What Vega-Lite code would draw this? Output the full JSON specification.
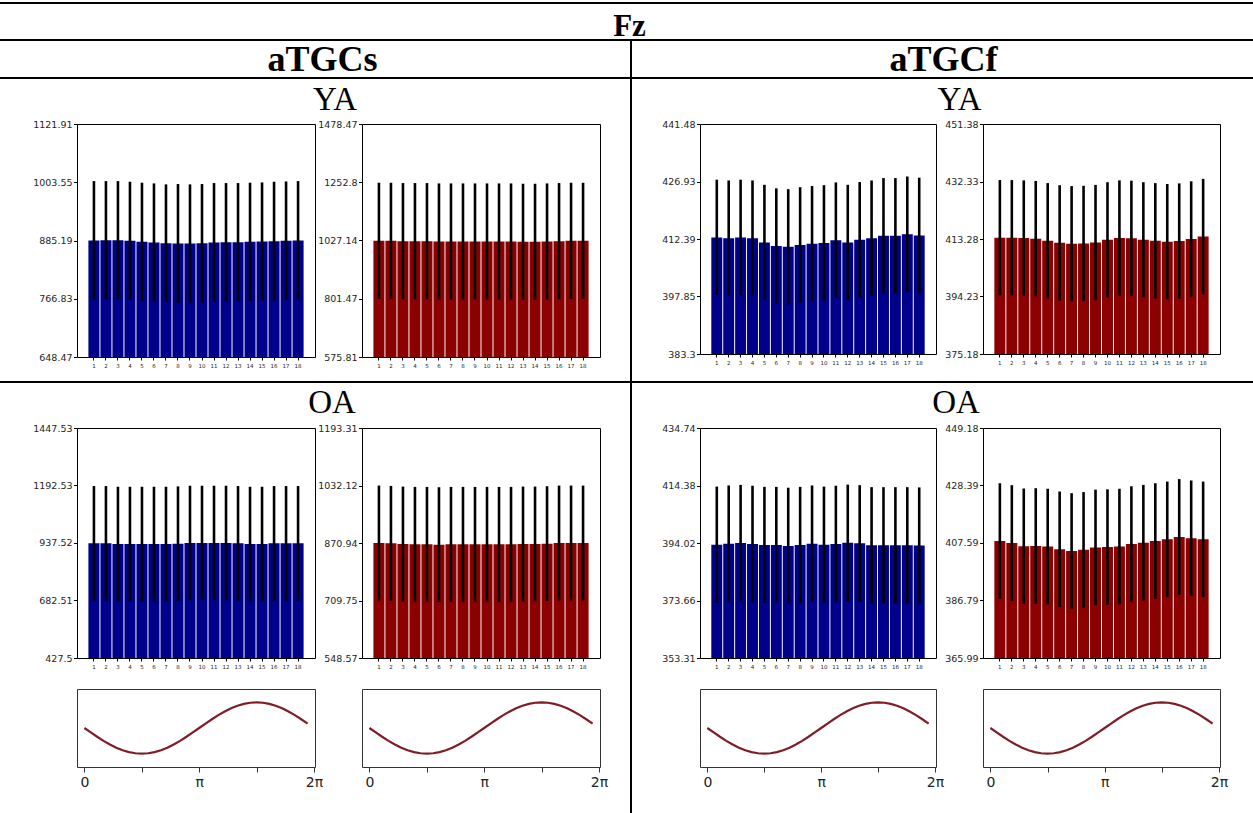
{
  "$schema": "https://vega.github.io/schema/vega-lite/v6.json",
  "padding": {"left": 0, "top": 2, "right": 0, "bottom": 0},
  "columns": 11,
  "align": "each",
  "bounds": "flush",
  "spacing": 0,
  "config": {
    "view": {"stroke": null},
    "axis": {"domain": false, "grid": false, "tickColor": "#000", "labelColor": "#262626", "labelFont": "DejaVu Sans", "labelFlush": false, "labelOverlap": false},
    "axisX": {"labelFontSize": 5.5, "tickSize": 3, "labelPadding": 3, "labelAngle": 0},
    "axisY": {"labelFontSize": 9.5, "tickSize": 3.5, "labelPadding": 1.5}
  },
  "datasets": {
    "ya_s": [
      {"pos": 1, "mean": 885.2, "sd": 120.7}, {"pos": 2, "mean": 885.9, "sd": 120.0}, {"pos": 3, "mean": 885.9, "sd": 120.0},
      {"pos": 4, "mean": 884.5, "sd": 120.1}, {"pos": 5, "mean": 882.5, "sd": 120.1}, {"pos": 6, "mean": 881.1, "sd": 120.1},
      {"pos": 7, "mean": 879.8, "sd": 119.4}, {"pos": 8, "mean": 879.1, "sd": 120.8}, {"pos": 9, "mean": 879.1, "sd": 120.1},
      {"pos": 10, "mean": 879.8, "sd": 120.1}, {"pos": 11, "mean": 881.1, "sd": 120.8}, {"pos": 12, "mean": 881.8, "sd": 120.1},
      {"pos": 13, "mean": 881.8, "sd": 120.1}, {"pos": 14, "mean": 882.5, "sd": 120.1}, {"pos": 15, "mean": 883.2, "sd": 120.0},
      {"pos": 16, "mean": 883.8, "sd": 120.8}, {"pos": 17, "mean": 884.5, "sd": 120.7}, {"pos": 18, "mean": 885.2, "sd": 120.7}
    ],
    "ya_s_red": [
      {"pos": 1, "mean": 1025.8, "sd": 225}, {"pos": 2, "mean": 1025.8, "sd": 225}, {"pos": 3, "mean": 1024.6, "sd": 225},
      {"pos": 4, "mean": 1024.6, "sd": 225}, {"pos": 5, "mean": 1024.6, "sd": 225}, {"pos": 6, "mean": 1023.3, "sd": 225},
      {"pos": 7, "mean": 1023.3, "sd": 225}, {"pos": 8, "mean": 1023.3, "sd": 225}, {"pos": 9, "mean": 1023.3, "sd": 225},
      {"pos": 10, "mean": 1023.3, "sd": 225}, {"pos": 11, "mean": 1023.3, "sd": 225}, {"pos": 12, "mean": 1023.3, "sd": 225},
      {"pos": 13, "mean": 1022.0, "sd": 225}, {"pos": 14, "mean": 1022.0, "sd": 225}, {"pos": 15, "mean": 1023.3, "sd": 225},
      {"pos": 16, "mean": 1024.6, "sd": 225}, {"pos": 17, "mean": 1025.8, "sd": 225}, {"pos": 18, "mean": 1025.8, "sd": 225}
    ],
    "ya_f": [
      {"pos": 1, "mean": 412.8, "sd": 14.6}, {"pos": 2, "mean": 412.6, "sd": 14.6}, {"pos": 3, "mean": 412.8, "sd": 14.6},
      {"pos": 4, "mean": 412.6, "sd": 14.6}, {"pos": 5, "mean": 411.5, "sd": 14.6}, {"pos": 6, "mean": 410.6, "sd": 14.6},
      {"pos": 7, "mean": 410.4, "sd": 14.6}, {"pos": 8, "mean": 410.9, "sd": 14.6}, {"pos": 9, "mean": 411.2, "sd": 14.6},
      {"pos": 10, "mean": 411.4, "sd": 14.6}, {"pos": 11, "mean": 412.1, "sd": 14.6}, {"pos": 12, "mean": 411.5, "sd": 14.6},
      {"pos": 13, "mean": 412.2, "sd": 14.6}, {"pos": 14, "mean": 412.6, "sd": 14.6}, {"pos": 15, "mean": 413.2, "sd": 14.6},
      {"pos": 16, "mean": 413.2, "sd": 14.6}, {"pos": 17, "mean": 413.6, "sd": 14.6}, {"pos": 18, "mean": 413.3, "sd": 14.6}
    ],
    "ya_f_red": [
      {"pos": 1, "mean": 413.7, "sd": 19.1}, {"pos": 2, "mean": 413.7, "sd": 19.1}, {"pos": 3, "mean": 413.6, "sd": 19.1},
      {"pos": 4, "mean": 413.4, "sd": 19.1}, {"pos": 5, "mean": 412.7, "sd": 19.1}, {"pos": 6, "mean": 412.0, "sd": 19.1},
      {"pos": 7, "mean": 411.7, "sd": 19.1}, {"pos": 8, "mean": 411.8, "sd": 19.1}, {"pos": 9, "mean": 412.1, "sd": 19.1},
      {"pos": 10, "mean": 413.0, "sd": 19.1}, {"pos": 11, "mean": 413.6, "sd": 19.1}, {"pos": 12, "mean": 413.5, "sd": 19.1},
      {"pos": 13, "mean": 413.0, "sd": 19.1}, {"pos": 14, "mean": 412.7, "sd": 19.1}, {"pos": 15, "mean": 412.4, "sd": 19.1},
      {"pos": 16, "mean": 412.6, "sd": 19.1}, {"pos": 17, "mean": 413.3, "sd": 19.1}, {"pos": 18, "mean": 414.1, "sd": 19.1}
    ],
    "oa_s": [
      {"pos": 1, "mean": 936.0, "sd": 254}, {"pos": 2, "mean": 936.0, "sd": 254}, {"pos": 3, "mean": 933.1, "sd": 254},
      {"pos": 4, "mean": 933.1, "sd": 254}, {"pos": 5, "mean": 933.1, "sd": 254}, {"pos": 6, "mean": 933.1, "sd": 254},
      {"pos": 7, "mean": 933.1, "sd": 254}, {"pos": 8, "mean": 934.6, "sd": 254}, {"pos": 9, "mean": 937.5, "sd": 254},
      {"pos": 10, "mean": 937.5, "sd": 254}, {"pos": 11, "mean": 937.5, "sd": 254}, {"pos": 12, "mean": 937.5, "sd": 254},
      {"pos": 13, "mean": 936.0, "sd": 254}, {"pos": 14, "mean": 933.1, "sd": 254}, {"pos": 15, "mean": 933.1, "sd": 254},
      {"pos": 16, "mean": 936.0, "sd": 254}, {"pos": 17, "mean": 936.0, "sd": 254}, {"pos": 18, "mean": 936.0, "sd": 254}
    ],
    "oa_s_red": [
      {"pos": 1, "mean": 870.9, "sd": 161}, {"pos": 2, "mean": 870.0, "sd": 161}, {"pos": 3, "mean": 868.1, "sd": 161},
      {"pos": 4, "mean": 867.2, "sd": 161}, {"pos": 5, "mean": 867.2, "sd": 161}, {"pos": 6, "mean": 866.3, "sd": 161},
      {"pos": 7, "mean": 867.2, "sd": 161}, {"pos": 8, "mean": 867.2, "sd": 161}, {"pos": 9, "mean": 867.2, "sd": 161},
      {"pos": 10, "mean": 867.2, "sd": 161}, {"pos": 11, "mean": 867.2, "sd": 161}, {"pos": 12, "mean": 867.2, "sd": 161},
      {"pos": 13, "mean": 868.1, "sd": 161}, {"pos": 14, "mean": 868.1, "sd": 161}, {"pos": 15, "mean": 869.1, "sd": 161},
      {"pos": 16, "mean": 870.9, "sd": 161}, {"pos": 17, "mean": 870.9, "sd": 161}, {"pos": 18, "mean": 870.9, "sd": 161}
    ],
    "oa_f": [
      {"pos": 1, "mean": 393.4, "sd": 20.6}, {"pos": 2, "mean": 393.8, "sd": 20.6}, {"pos": 3, "mean": 394.0, "sd": 20.6},
      {"pos": 4, "mean": 393.7, "sd": 20.6}, {"pos": 5, "mean": 393.3, "sd": 20.6}, {"pos": 6, "mean": 393.3, "sd": 20.6},
      {"pos": 7, "mean": 393.0, "sd": 20.6}, {"pos": 8, "mean": 393.3, "sd": 20.6}, {"pos": 9, "mean": 393.8, "sd": 20.6},
      {"pos": 10, "mean": 393.4, "sd": 20.6}, {"pos": 11, "mean": 393.7, "sd": 20.6}, {"pos": 12, "mean": 394.1, "sd": 20.6},
      {"pos": 13, "mean": 393.9, "sd": 20.6}, {"pos": 14, "mean": 393.2, "sd": 20.6}, {"pos": 15, "mean": 393.2, "sd": 20.6},
      {"pos": 16, "mean": 393.2, "sd": 20.6}, {"pos": 17, "mean": 393.2, "sd": 20.6}, {"pos": 18, "mean": 393.1, "sd": 20.6}
    ],
    "oa_f_red": [
      {"pos": 1, "mean": 408.3, "sd": 20.9}, {"pos": 2, "mean": 407.6, "sd": 20.9}, {"pos": 3, "mean": 406.4, "sd": 20.9},
      {"pos": 4, "mean": 406.5, "sd": 20.9}, {"pos": 5, "mean": 406.3, "sd": 20.9}, {"pos": 6, "mean": 405.3, "sd": 20.9},
      {"pos": 7, "mean": 404.7, "sd": 20.9}, {"pos": 8, "mean": 405.1, "sd": 20.9}, {"pos": 9, "mean": 406.0, "sd": 20.9},
      {"pos": 10, "mean": 406.1, "sd": 20.9}, {"pos": 11, "mean": 406.3, "sd": 20.9}, {"pos": 12, "mean": 407.2, "sd": 20.9},
      {"pos": 13, "mean": 407.7, "sd": 20.9}, {"pos": 14, "mean": 408.3, "sd": 20.9}, {"pos": 15, "mean": 408.9, "sd": 20.9},
      {"pos": 16, "mean": 409.8, "sd": 20.9}, {"pos": 17, "mean": 409.3, "sd": 20.9}, {"pos": 18, "mean": 408.9, "sd": 20.9}
    ],
    "wave": [
      {"deg": 0, "val": 0}, {"deg": 10, "val": -0.1736}, {"deg": 20, "val": -0.342}, {"deg": 30, "val": -0.5},
      {"deg": 40, "val": -0.6428}, {"deg": 50, "val": -0.766}, {"deg": 60, "val": -0.866}, {"deg": 70, "val": -0.9397},
      {"deg": 80, "val": -0.9848}, {"deg": 90, "val": -1}, {"deg": 100, "val": -0.9848}, {"deg": 110, "val": -0.9397},
      {"deg": 120, "val": -0.866}, {"deg": 130, "val": -0.766}, {"deg": 140, "val": -0.6428}, {"deg": 150, "val": -0.5},
      {"deg": 160, "val": -0.342}, {"deg": 170, "val": -0.1736}, {"deg": 180, "val": 0}, {"deg": 190, "val": 0.1736},
      {"deg": 200, "val": 0.342}, {"deg": 210, "val": 0.5}, {"deg": 220, "val": 0.6428}, {"deg": 230, "val": 0.766},
      {"deg": 240, "val": 0.866}, {"deg": 250, "val": 0.9397}, {"deg": 260, "val": 0.9848}, {"deg": 270, "val": 1},
      {"deg": 280, "val": 0.9848}, {"deg": 290, "val": 0.9397}, {"deg": 300, "val": 0.866}, {"deg": 310, "val": 0.766},
      {"deg": 320, "val": 0.6428}, {"deg": 330, "val": 0.5}, {"deg": 340, "val": 0.342}, {"deg": 350, "val": 0.1736}
    ]
  },
  "concat": [
    {"width": 77, "height": 2, "view": {"fill": "#000"}, "data": {"values": []}, "mark": "point"},
    {"width": 238, "height": 2, "view": {"fill": "#000"}, "data": {"values": []}, "mark": "point"},
    {"width": 47, "height": 2, "view": {"fill": "#000"}, "data": {"values": []}, "mark": "point"},
    {"width": 238, "height": 2, "view": {"fill": "#000"}, "data": {"values": []}, "mark": "point"},
    {"width": 30, "height": 2, "view": {"fill": "#000"}, "data": {"values": []}, "mark": "point"},
    {"width": 2, "height": 2, "view": {"fill": "#000"}, "data": {"values": []}, "mark": "point"},
    {"width": 68, "height": 2, "view": {"fill": "#000"}, "data": {"values": []}, "mark": "point"},
    {"width": 236, "height": 2, "view": {"fill": "#000"}, "data": {"values": []}, "mark": "point"},
    {"width": 47, "height": 2, "view": {"fill": "#000"}, "data": {"values": []}, "mark": "point"},
    {"width": 237, "height": 2, "view": {"fill": "#000"}, "data": {"values": []}, "mark": "point"},
    {"width": 33, "height": 2, "view": {"fill": "#000"}, "data": {"values": []}, "mark": "point"},

    {"width": 1, "height": 35, "data": {"values": []}, "mark": "point"}, {"width": 1, "height": 35, "data": {"values": []}, "mark": "point"},
    {"width": 1, "height": 35, "data": {"values": []}, "mark": "point"}, {"width": 1, "height": 35, "data": {"values": []}, "mark": "point"},
    {"width": 1, "height": 35, "data": {"values": []}, "mark": "point"},
    {"width": 2, "height": 35, "data": {"values": [{"t": "Fz"}]}, "mark": {"type": "text", "font": "Liberation Serif", "fontWeight": "bold", "fontSize": 31, "color": "#000", "baseline": "alphabetic", "dx": -1.5, "dy": 14.5}, "encoding": {"text": {"field": "t"}}},
    {"width": 1, "height": 35, "data": {"values": []}, "mark": "point"}, {"width": 1, "height": 35, "data": {"values": []}, "mark": "point"},
    {"width": 1, "height": 35, "data": {"values": []}, "mark": "point"}, {"width": 1, "height": 35, "data": {"values": []}, "mark": "point"},
    {"width": 1, "height": 35, "data": {"values": []}, "mark": "point"},

    {"width": 77, "height": 2, "view": {"fill": "#000"}, "data": {"values": []}, "mark": "point"},
    {"width": 238, "height": 2, "view": {"fill": "#000"}, "data": {"values": []}, "mark": "point"},
    {"width": 47, "height": 2, "view": {"fill": "#000"}, "data": {"values": []}, "mark": "point"},
    {"width": 238, "height": 2, "view": {"fill": "#000"}, "data": {"values": []}, "mark": "point"},
    {"width": 30, "height": 2, "view": {"fill": "#000"}, "data": {"values": []}, "mark": "point"},
    {"width": 2, "height": 2, "view": {"fill": "#000"}, "data": {"values": []}, "mark": "point"},
    {"width": 68, "height": 2, "view": {"fill": "#000"}, "data": {"values": []}, "mark": "point"},
    {"width": 236, "height": 2, "view": {"fill": "#000"}, "data": {"values": []}, "mark": "point"},
    {"width": 47, "height": 2, "view": {"fill": "#000"}, "data": {"values": []}, "mark": "point"},
    {"width": 237, "height": 2, "view": {"fill": "#000"}, "data": {"values": []}, "mark": "point"},
    {"width": 33, "height": 2, "view": {"fill": "#000"}, "data": {"values": []}, "mark": "point"},

    {"width": 1, "height": 36, "data": {"values": []}, "mark": "point"}, {"width": 1, "height": 36, "data": {"values": []}, "mark": "point"},
    {"width": 47, "height": 36, "data": {"values": [{"t": "aTGCs"}]}, "mark": {"type": "text", "font": "Liberation Serif", "fontWeight": "bold", "fontSize": 36, "color": "#000", "baseline": "alphabetic", "dx": -16, "dy": 12}, "encoding": {"text": {"field": "t"}}},
    {"width": 1, "height": 36, "data": {"values": []}, "mark": "point"}, {"width": 1, "height": 36, "data": {"values": []}, "mark": "point"},
    {"width": 2, "height": 36, "view": {"fill": "#000"}, "data": {"values": []}, "mark": "point"},
    {"width": 1, "height": 36, "data": {"values": []}, "mark": "point"}, {"width": 1, "height": 36, "data": {"values": []}, "mark": "point"},
    {"width": 47, "height": 36, "data": {"values": [{"t": "aTGCf"}]}, "mark": {"type": "text", "font": "Liberation Serif", "fontWeight": "bold", "fontSize": 36, "color": "#000", "baseline": "alphabetic", "dx": -16, "dy": 12}, "encoding": {"text": {"field": "t"}}},
    {"width": 1, "height": 36, "data": {"values": []}, "mark": "point"}, {"width": 1, "height": 36, "data": {"values": []}, "mark": "point"},

    {"width": 77, "height": 2, "view": {"fill": "#000"}, "data": {"values": []}, "mark": "point"},
    {"width": 238, "height": 2, "view": {"fill": "#000"}, "data": {"values": []}, "mark": "point"},
    {"width": 47, "height": 2, "view": {"fill": "#000"}, "data": {"values": []}, "mark": "point"},
    {"width": 238, "height": 2, "view": {"fill": "#000"}, "data": {"values": []}, "mark": "point"},
    {"width": 30, "height": 2, "view": {"fill": "#000"}, "data": {"values": []}, "mark": "point"},
    {"width": 2, "height": 2, "view": {"fill": "#000"}, "data": {"values": []}, "mark": "point"},
    {"width": 68, "height": 2, "view": {"fill": "#000"}, "data": {"values": []}, "mark": "point"},
    {"width": 236, "height": 2, "view": {"fill": "#000"}, "data": {"values": []}, "mark": "point"},
    {"width": 47, "height": 2, "view": {"fill": "#000"}, "data": {"values": []}, "mark": "point"},
    {"width": 237, "height": 2, "view": {"fill": "#000"}, "data": {"values": []}, "mark": "point"},
    {"width": 33, "height": 2, "view": {"fill": "#000"}, "data": {"values": []}, "mark": "point"},

    {"width": 1, "height": 45, "data": {"values": []}, "mark": "point"}, {"width": 1, "height": 45, "data": {"values": []}, "mark": "point"},
    {"width": 47, "height": 45, "data": {"values": [{"t": "YA"}]}, "mark": {"type": "text", "font": "Liberation Serif", "fontSize": 33, "color": "#000", "baseline": "alphabetic", "dx": -3.5, "dy": 8.5}, "encoding": {"text": {"field": "t"}}},
    {"width": 1, "height": 45, "data": {"values": []}, "mark": "point"}, {"width": 1, "height": 45, "data": {"values": []}, "mark": "point"},
    {"width": 2, "height": 45, "view": {"fill": "#000"}, "data": {"values": []}, "mark": "point"},
    {"width": 1, "height": 45, "data": {"values": []}, "mark": "point"}, {"width": 1, "height": 45, "data": {"values": []}, "mark": "point"},
    {"width": 47, "height": 45, "data": {"values": [{"t": "YA"}]}, "mark": {"type": "text", "font": "Liberation Serif", "fontSize": 33, "color": "#000", "baseline": "alphabetic", "dx": 0, "dy": 8.5}, "encoding": {"text": {"field": "t"}}},
    {"width": 1, "height": 45, "data": {"values": []}, "mark": "point"}, {"width": 1, "height": 45, "data": {"values": []}, "mark": "point"},

    {"width": 77, "height": 233, "data": {"values": []}, "mark": "point"},
    {"width": 238, "height": 233, "data": {"name": "ya_s"}, "view": {"stroke": "#000"},
     "encoding": {"x": {"field": "pos", "type": "ordinal", "title": null, "scale": {"paddingInner": 0.08, "paddingOuter": 0.95}},
                  "y": {"field": "mean", "type": "quantitative", "title": null, "scale": {"domain": [648.47, 1121.91], "zero": false, "nice": false, "clamp": true}, "axis": {"values": [648.47, 766.83, 885.19, 1003.55, 1121.91], "format": ".2~f"}}},
     "layer": [{"mark": {"type": "bar", "color": "#00008b"}}, {"mark": {"type": "errorbar", "ticks": false, "color": "#000", "thickness": 2.6}, "encoding": {"yError": {"field": "sd"}}}]},
    {"width": 47, "height": 233, "data": {"values": []}, "mark": "point"},
    {"width": 238, "height": 233, "data": {"name": "ya_s_red"}, "view": {"stroke": "#000"},
     "encoding": {"x": {"field": "pos", "type": "ordinal", "title": null, "scale": {"paddingInner": 0.08, "paddingOuter": 0.95}},
                  "y": {"field": "mean", "type": "quantitative", "title": null, "scale": {"domain": [575.81, 1478.47], "zero": false, "nice": false, "clamp": true}, "axis": {"values": [575.81, 801.47, 1027.14, 1252.8, 1478.47], "format": ".2~f"}}},
     "layer": [{"mark": {"type": "bar", "color": "#8b0000"}}, {"mark": {"type": "errorbar", "ticks": false, "color": "#000", "thickness": 2.6}, "encoding": {"yError": {"field": "sd"}}}]},
    {"width": 30, "height": 233, "data": {"values": []}, "mark": "point"},
    {"width": 2, "height": 233, "view": {"fill": "#000"}, "data": {"values": []}, "mark": "point"},
    {"width": 68, "height": 233, "data": {"values": []}, "mark": "point"},
    {"width": 236, "height": 230, "data": {"name": "ya_f"}, "view": {"stroke": "#000"},
     "encoding": {"x": {"field": "pos", "type": "ordinal", "title": null, "scale": {"paddingInner": 0.08, "paddingOuter": 0.95}},
                  "y": {"field": "mean", "type": "quantitative", "title": null, "scale": {"domain": [383.3, 441.48], "zero": false, "nice": false, "clamp": true}, "axis": {"values": [383.3, 397.85, 412.39, 426.93, 441.48], "format": ".2~f"}}},
     "layer": [{"mark": {"type": "bar", "color": "#00008b"}}, {"mark": {"type": "errorbar", "ticks": false, "color": "#000", "thickness": 2.6}, "encoding": {"yError": {"field": "sd"}}}]},
    {"width": 47, "height": 233, "data": {"values": []}, "mark": "point"},
    {"width": 237, "height": 230, "data": {"name": "ya_f_red"}, "view": {"stroke": "#000"},
     "encoding": {"x": {"field": "pos", "type": "ordinal", "title": null, "scale": {"paddingInner": 0.08, "paddingOuter": 0.95}},
                  "y": {"field": "mean", "type": "quantitative", "title": null, "scale": {"domain": [375.18, 451.38], "zero": false, "nice": false, "clamp": true}, "axis": {"values": [375.18, 394.23, 413.28, 432.33, 451.38], "format": ".2~f"}}},
     "layer": [{"mark": {"type": "bar", "color": "#8b0000"}}, {"mark": {"type": "errorbar", "ticks": false, "color": "#000", "thickness": 2.6}, "encoding": {"yError": {"field": "sd"}}}]},
    {"width": 33, "height": 233, "data": {"values": []}, "mark": "point"},

    {"width": 1, "height": 24, "data": {"values": []}, "mark": "point"}, {"width": 1, "height": 24, "data": {"values": []}, "mark": "point"},
    {"width": 1, "height": 24, "data": {"values": []}, "mark": "point"}, {"width": 1, "height": 24, "data": {"values": []}, "mark": "point"},
    {"width": 1, "height": 24, "data": {"values": []}, "mark": "point"},
    {"width": 2, "height": 24, "view": {"fill": "#000"}, "data": {"values": []}, "mark": "point"},
    {"width": 1, "height": 24, "data": {"values": []}, "mark": "point"}, {"width": 1, "height": 24, "data": {"values": []}, "mark": "point"},
    {"width": 1, "height": 24, "data": {"values": []}, "mark": "point"}, {"width": 1, "height": 24, "data": {"values": []}, "mark": "point"},
    {"width": 1, "height": 24, "data": {"values": []}, "mark": "point"},

    {"width": 77, "height": 2, "view": {"fill": "#000"}, "data": {"values": []}, "mark": "point"},
    {"width": 238, "height": 2, "view": {"fill": "#000"}, "data": {"values": []}, "mark": "point"},
    {"width": 47, "height": 2, "view": {"fill": "#000"}, "data": {"values": []}, "mark": "point"},
    {"width": 238, "height": 2, "view": {"fill": "#000"}, "data": {"values": []}, "mark": "point"},
    {"width": 30, "height": 2, "view": {"fill": "#000"}, "data": {"values": []}, "mark": "point"},
    {"width": 2, "height": 2, "view": {"fill": "#000"}, "data": {"values": []}, "mark": "point"},
    {"width": 68, "height": 2, "view": {"fill": "#000"}, "data": {"values": []}, "mark": "point"},
    {"width": 236, "height": 2, "view": {"fill": "#000"}, "data": {"values": []}, "mark": "point"},
    {"width": 47, "height": 2, "view": {"fill": "#000"}, "data": {"values": []}, "mark": "point"},
    {"width": 237, "height": 2, "view": {"fill": "#000"}, "data": {"values": []}, "mark": "point"},
    {"width": 33, "height": 2, "view": {"fill": "#000"}, "data": {"values": []}, "mark": "point"},

    {"width": 1, "height": 45, "data": {"values": []}, "mark": "point"}, {"width": 1, "height": 45, "data": {"values": []}, "mark": "point"},
    {"width": 47, "height": 45, "data": {"values": [{"t": "OA"}]}, "mark": {"type": "text", "font": "Liberation Serif", "fontSize": 33, "color": "#000", "baseline": "alphabetic", "dx": -6.5, "dy": 7.5}, "encoding": {"text": {"field": "t"}}},
    {"width": 1, "height": 45, "data": {"values": []}, "mark": "point"}, {"width": 1, "height": 45, "data": {"values": []}, "mark": "point"},
    {"width": 2, "height": 45, "view": {"fill": "#000"}, "data": {"values": []}, "mark": "point"},
    {"width": 1, "height": 45, "data": {"values": []}, "mark": "point"}, {"width": 1, "height": 45, "data": {"values": []}, "mark": "point"},
    {"width": 47, "height": 45, "data": {"values": [{"t": "OA"}]}, "mark": {"type": "text", "font": "Liberation Serif", "fontSize": 33, "color": "#000", "baseline": "alphabetic", "dx": -3.5, "dy": 7.5}, "encoding": {"text": {"field": "t"}}},
    {"width": 1, "height": 45, "data": {"values": []}, "mark": "point"}, {"width": 1, "height": 45, "data": {"values": []}, "mark": "point"},

    {"width": 77, "height": 230, "data": {"values": []}, "mark": "point"},
    {"width": 238, "height": 230, "data": {"name": "oa_s"}, "view": {"stroke": "#000"},
     "encoding": {"x": {"field": "pos", "type": "ordinal", "title": null, "scale": {"paddingInner": 0.08, "paddingOuter": 0.95}},
                  "y": {"field": "mean", "type": "quantitative", "title": null, "scale": {"domain": [427.5, 1447.53], "zero": false, "nice": false, "clamp": true}, "axis": {"values": [427.5, 682.51, 937.52, 1192.53, 1447.53], "format": ".2~f"}}},
     "layer": [{"mark": {"type": "bar", "color": "#00008b"}}, {"mark": {"type": "errorbar", "ticks": false, "color": "#000", "thickness": 2.6}, "encoding": {"yError": {"field": "sd"}}}]},
    {"width": 47, "height": 230, "data": {"values": []}, "mark": "point"},
    {"width": 238, "height": 230, "data": {"name": "oa_s_red"}, "view": {"stroke": "#000"},
     "encoding": {"x": {"field": "pos", "type": "ordinal", "title": null, "scale": {"paddingInner": 0.08, "paddingOuter": 0.95}},
                  "y": {"field": "mean", "type": "quantitative", "title": null, "scale": {"domain": [548.57, 1193.31], "zero": false, "nice": false, "clamp": true}, "axis": {"values": [548.57, 709.75, 870.94, 1032.12, 1193.31], "format": ".2~f"}}},
     "layer": [{"mark": {"type": "bar", "color": "#8b0000"}}, {"mark": {"type": "errorbar", "ticks": false, "color": "#000", "thickness": 2.6}, "encoding": {"yError": {"field": "sd"}}}]},
    {"width": 30, "height": 230, "data": {"values": []}, "mark": "point"},
    {"width": 2, "height": 230, "view": {"fill": "#000"}, "data": {"values": []}, "mark": "point"},
    {"width": 68, "height": 230, "data": {"values": []}, "mark": "point"},
    {"width": 236, "height": 230, "data": {"name": "oa_f"}, "view": {"stroke": "#000"},
     "encoding": {"x": {"field": "pos", "type": "ordinal", "title": null, "scale": {"paddingInner": 0.08, "paddingOuter": 0.95}},
                  "y": {"field": "mean", "type": "quantitative", "title": null, "scale": {"domain": [353.31, 434.74], "zero": false, "nice": false, "clamp": true}, "axis": {"values": [353.31, 373.66, 394.02, 414.38, 434.74], "format": ".2~f"}}},
     "layer": [{"mark": {"type": "bar", "color": "#00008b"}}, {"mark": {"type": "errorbar", "ticks": false, "color": "#000", "thickness": 2.6}, "encoding": {"yError": {"field": "sd"}}}]},
    {"width": 47, "height": 230, "data": {"values": []}, "mark": "point"},
    {"width": 237, "height": 230, "data": {"name": "oa_f_red"}, "view": {"stroke": "#000"},
     "encoding": {"x": {"field": "pos", "type": "ordinal", "title": null, "scale": {"paddingInner": 0.08, "paddingOuter": 0.95}},
                  "y": {"field": "mean", "type": "quantitative", "title": null, "scale": {"domain": [365.99, 449.18], "zero": false, "nice": false, "clamp": true}, "axis": {"values": [365.99, 386.79, 407.59, 428.39, 449.18], "format": ".2~f"}}},
     "layer": [{"mark": {"type": "bar", "color": "#8b0000"}}, {"mark": {"type": "errorbar", "ticks": false, "color": "#000", "thickness": 2.6}, "encoding": {"yError": {"field": "sd"}}}]},
    {"width": 33, "height": 230, "data": {"values": []}, "mark": "point"},

    {"width": 1, "height": 31, "data": {"values": []}, "mark": "point"}, {"width": 1, "height": 31, "data": {"values": []}, "mark": "point"},
    {"width": 1, "height": 31, "data": {"values": []}, "mark": "point"}, {"width": 1, "height": 31, "data": {"values": []}, "mark": "point"},
    {"width": 1, "height": 31, "data": {"values": []}, "mark": "point"},
    {"width": 2, "height": 31, "view": {"fill": "#000"}, "data": {"values": []}, "mark": "point"},
    {"width": 1, "height": 31, "data": {"values": []}, "mark": "point"}, {"width": 1, "height": 31, "data": {"values": []}, "mark": "point"},
    {"width": 1, "height": 31, "data": {"values": []}, "mark": "point"}, {"width": 1, "height": 31, "data": {"values": []}, "mark": "point"},
    {"width": 1, "height": 31, "data": {"values": []}, "mark": "point"},

    {"width": 77, "height": 78, "data": {"values": []}, "mark": "point"},
    {"width": 238, "height": 78, "data": {"name": "wave"}, "view": {"stroke": "#333"},
     "mark": {"type": "line", "color": "#7f1d27", "strokeWidth": 2.2},
     "encoding": {"x": {"field": "deg", "type": "quantitative", "title": null, "scale": {"domain": [-11.6, 361.6], "nice": false, "zero": false},
                        "axis": {"values": [0, 90, 180, 270, 360], "labelExpr": "datum.value == 0 ? '0' : datum.value == 180 ? 'π' : datum.value == 360 ? '2π' : ''", "labelFontSize": 14, "tickSize": 5, "labelPadding": 3, "labelColor": "#222", "tickColor": "#333"}},
                  "y": {"field": "val", "type": "quantitative", "scale": {"domain": [-1.52, 1.52], "nice": false, "zero": false}, "axis": null}}},
    {"width": 47, "height": 78, "data": {"values": []}, "mark": "point"},
    {"width": 238, "height": 78, "data": {"name": "wave"}, "view": {"stroke": "#333"},
     "mark": {"type": "line", "color": "#7f1d27", "strokeWidth": 2.2},
     "encoding": {"x": {"field": "deg", "type": "quantitative", "title": null, "scale": {"domain": [-11.6, 361.6], "nice": false, "zero": false},
                        "axis": {"values": [0, 90, 180, 270, 360], "labelExpr": "datum.value == 0 ? '0' : datum.value == 180 ? 'π' : datum.value == 360 ? '2π' : ''", "labelFontSize": 14, "tickSize": 5, "labelPadding": 3, "labelColor": "#222", "tickColor": "#333"}},
                  "y": {"field": "val", "type": "quantitative", "scale": {"domain": [-1.52, 1.52], "nice": false, "zero": false}, "axis": null}}},
    {"width": 30, "height": 78, "data": {"values": []}, "mark": "point"},
    {"width": 2, "height": 78, "view": {"fill": "#000"}, "data": {"values": []}, "mark": "point"},
    {"width": 68, "height": 78, "data": {"values": []}, "mark": "point"},
    {"width": 236, "height": 78, "data": {"name": "wave"}, "view": {"stroke": "#333"},
     "mark": {"type": "line", "color": "#7f1d27", "strokeWidth": 2.2},
     "encoding": {"x": {"field": "deg", "type": "quantitative", "title": null, "scale": {"domain": [-11.6, 361.6], "nice": false, "zero": false},
                        "axis": {"values": [0, 90, 180, 270, 360], "labelExpr": "datum.value == 0 ? '0' : datum.value == 180 ? 'π' : datum.value == 360 ? '2π' : ''", "labelFontSize": 14, "tickSize": 5, "labelPadding": 3, "labelColor": "#222", "tickColor": "#333"}},
                  "y": {"field": "val", "type": "quantitative", "scale": {"domain": [-1.52, 1.52], "nice": false, "zero": false}, "axis": null}}},
    {"width": 47, "height": 78, "data": {"values": []}, "mark": "point"},
    {"width": 237, "height": 78, "data": {"name": "wave"}, "view": {"stroke": "#333"},
     "mark": {"type": "line", "color": "#7f1d27", "strokeWidth": 2.2},
     "encoding": {"x": {"field": "deg", "type": "quantitative", "title": null, "scale": {"domain": [-11.6, 361.6], "nice": false, "zero": false},
                        "axis": {"values": [0, 90, 180, 270, 360], "labelExpr": "datum.value == 0 ? '0' : datum.value == 180 ? 'π' : datum.value == 360 ? '2π' : ''", "labelFontSize": 14, "tickSize": 5, "labelPadding": 3, "labelColor": "#222", "tickColor": "#333"}},
                  "y": {"field": "val", "type": "quantitative", "scale": {"domain": [-1.52, 1.52], "nice": false, "zero": false}, "axis": null}}},
    {"width": 33, "height": 78, "data": {"values": []}, "mark": "point"},

    {"width": 1, "height": 46, "data": {"values": []}, "mark": "point"}, {"width": 1, "height": 46, "data": {"values": []}, "mark": "point"},
    {"width": 1, "height": 46, "data": {"values": []}, "mark": "point"}, {"width": 1, "height": 46, "data": {"values": []}, "mark": "point"},
    {"width": 1, "height": 46, "data": {"values": []}, "mark": "point"},
    {"width": 2, "height": 46, "view": {"fill": "#000"}, "data": {"values": []}, "mark": "point"}
  ]
}
